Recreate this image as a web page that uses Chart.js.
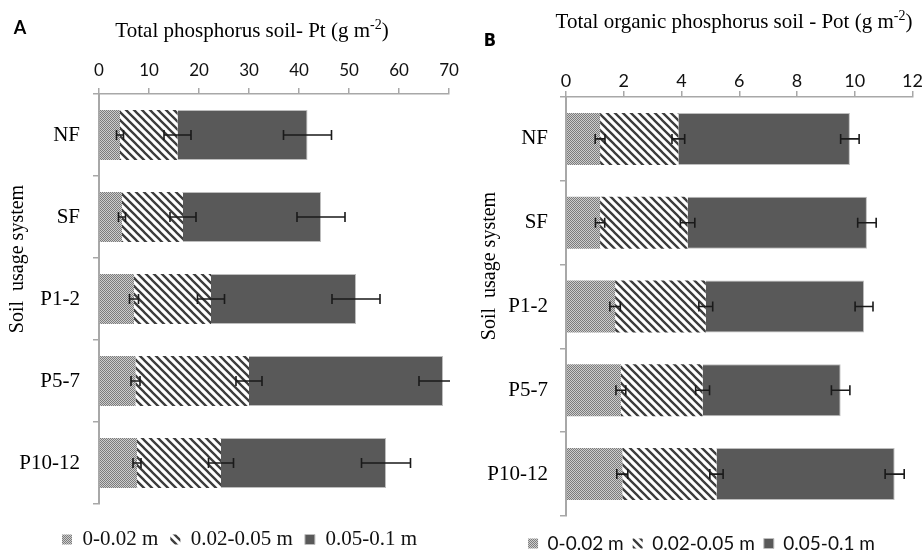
<!DOCTYPE html>
<html>
<head>
<meta charset="utf-8">
<title>Soil phosphorus by usage system</title>
<script src="https://cdn.jsdelivr.net/npm/chart.js@4.4.1/dist/chart.umd.min.js"></script>
<style>
  body { margin: 0; background: #fff; width: 924px; height: 554px; overflow: hidden; position: relative; }
  canvas { position: absolute; top: 0; }
  #chartA { left: 0; }
  #chartB { left: 470px; }
</style>
</head>
<body>
<canvas id="chartA" width="470" height="554"></canvas>
<canvas id="chartB" width="454" height="554"></canvas>
<script>
var systems = ['NF', 'SF', 'P1-2', 'P5-7', 'P10-12'];
var depths = ['0-0.02 m', '0.02-0.05 m', '0.05-0.1 m'];

// A - total phosphorus (g m-2), one value per soil usage system
var ptTop = [4.2, 4.6, 7.0, 7.3, 7.6];
var ptMid = [11.5, 12.2, 15.4, 22.7, 16.8];
var ptDeep = [26.0, 27.6, 29.0, 38.8, 33.0];
var ptTopErr = [0.7, 0.7, 0.9, 0.9, 0.8];
var ptMidErr = [2.7, 2.6, 2.7, 2.6, 2.5];
var ptDeepErr = [4.8, 4.8, 4.8, 4.8, 4.9];
var ptTicks = [0, 10, 20, 30, 40, 50, 60, 70];

// B - total organic phosphorus (g m-2)
var potTop = [1.18, 1.18, 1.70, 1.90, 1.95];
var potMid = [2.71, 3.03, 3.14, 2.83, 3.26];
var potDeep = [5.94, 6.21, 5.48, 4.78, 6.17];
var potTopErr = [0.17, 0.16, 0.18, 0.17, 0.19];
var potMidErr = [0.22, 0.25, 0.24, 0.24, 0.23];
var potDeepErr = [0.32, 0.32, 0.31, 0.32, 0.33];
var potTicks = [0, 2, 4, 6, 8, 10, 12];

var serif = '"Liberation Serif", "Times New Roman", serif';
var sans = 'Lato, "Open Sans", sans-serif';
Chart.defaults.color = '#111';

function checkerPattern() {
	var c = document.createElement('canvas');
	c.width = 2; c.height = 2;
	var g = c.getContext('2d');
	g.fillStyle = '#cdcdcd';
	g.fillRect(0, 0, 2, 2);
	g.fillStyle = '#7c7c7c';
	g.fillRect(0, 0, 1, 1);
	g.fillRect(1, 1, 1, 1);
	return g.createPattern(c, 'repeat');
}

function stripePattern() {
	var s = 8;
	var c = document.createElement('canvas');
	c.width = s; c.height = s;
	var g = c.getContext('2d');
	g.fillStyle = '#fff';
	g.fillRect(0, 0, s, s);
	g.strokeStyle = '#3c3c3c';
	g.lineWidth = 2.3;
	g.beginPath();
	g.moveTo(-2, -2); g.lineTo(s + 2, s + 2);
	g.moveTo(-2, s - 2); g.lineTo(2, s + 2);
	g.moveTo(s - 2, -2); g.lineTo(s + 2, 2);
	g.stroke();
	return g.createPattern(c, 'repeat');
}

// error bars at the end of each stacked segment
var errorBars = {
	id: 'errorBars',
	afterDatasetsDraw: function(chart) {
		var ctx = chart.ctx, xs = chart.scales.x, area = chart.chartArea;
		ctx.save();
		ctx.beginPath();
		ctx.rect(area.left, area.top, area.right - area.left + 1, area.bottom - area.top);
		ctx.clip();
		ctx.strokeStyle = '#1a1a1a';
		ctx.lineWidth = 1.6;
		chart.data.datasets.forEach(function(ds, d) {
			var meta = chart.getDatasetMeta(d);
			meta.data.forEach(function(bar, i) {
				var end = 0;
				for (var k = 0; k <= d; k++) end += chart.data.datasets[k].data[i];
				var lo = xs.getPixelForValue(end - ds.errors[i]);
				var hi = xs.getPixelForValue(end + ds.errors[i]);
				var y = bar.y;
				ctx.beginPath();
				ctx.moveTo(lo, y); ctx.lineTo(hi, y);
				ctx.moveTo(lo, y - 5); ctx.lineTo(lo, y + 5);
				ctx.moveTo(hi, y - 5); ctx.lineTo(hi, y + 5);
				ctx.stroke();
			});
		});
		ctx.restore();
	}
};

function legendShift(dx, dy) {
	return {
		id: 'legendShift',
		afterLayout: function(chart) {
			var lg = chart.legend;
			if (!lg) return;
			lg.left += dx; lg.right += dx;
			lg.top += dy; lg.bottom += dy;
		}
	};
}

// free text: panel letter, axis titles (with superscript)
function notes(items) {
	return {
		id: 'notes',
		afterDraw: function(chart) {
			var ctx = chart.ctx;
			items.forEach(function(it) {
				ctx.save();
				ctx.translate(it.x, it.y);
				if (it.rotate) ctx.rotate(it.rotate);
				ctx.fillStyle = '#000';
				ctx.textBaseline = it.baseline || 'alphabetic';
				ctx.textAlign = 'left';
				var widths = it.parts.map(function(p) {
					ctx.font = p.sup ? it.supFont : it.font;
					return ctx.measureText(p.text).width;
				});
				var total = widths.reduce(function(a, b) { return a + b; }, 0);
				var x = -total / 2;
				it.parts.forEach(function(p, k) {
					ctx.font = p.sup ? it.supFont : it.font;
					ctx.fillText(p.text, x, p.sup ? -8 : 0);
					x += widths[k];
				});
				ctx.restore();
			});
		}
	};
}

function makeChart(id, p) {
	var axisGray = '#a8a8a8';
	return new Chart(document.getElementById(id), {
		type: 'bar',
		data: {
			labels: systems,
			datasets: [
				{ label: depths[0], data: p.top, errors: p.topErr, backgroundColor: checkerPattern(), borderWidth: 0 },
				{ label: depths[1], data: p.mid, errors: p.midErr, backgroundColor: stripePattern(), borderWidth: 0 },
				{ label: depths[2], data: p.deep, errors: p.deepErr, backgroundColor: '#595959', borderColor: '#bdbdbd', borderWidth: 1 }
			]
		},
		options: {
			indexAxis: 'y',
			responsive: false,
			animation: false,
			layout: { padding: { left: 0, right: p.padRight, top: 0, bottom: p.padBottom } },
			datasets: { bar: { categoryPercentage: 1, barPercentage: p.barPct } },
			scales: {
				x: {
					position: 'top',
					stacked: true,
					min: p.ticks[0],
					max: p.ticks[p.ticks.length - 1],
					ticks: { stepSize: p.ticks[1] - p.ticks[0], padding: p.xTickPad, font: { family: sans, size: p.tickSize, lineHeight: p.tickLine }, color: '#111' },
					grid: { drawOnChartArea: false, drawTicks: true, tickLength: 6, color: axisGray, lineWidth: 1.5 },
					border: { color: axisGray, width: 1.5 },
					afterFit: function(s) { s.height = p.areaTop; }
				},
				y: {
					stacked: true,
					ticks: { padding: p.yTickPad, autoSkip: false, font: { family: serif, size: 21 }, color: '#000' },
					grid: { drawOnChartArea: false, drawTicks: true, tickLength: 6, color: axisGray, lineWidth: 1.5 },
					border: { color: axisGray, width: 2 },
					afterFit: function(s) { s.width = p.areaLeft; }
				}
			},
			plugins: {
				legend: {
					position: 'bottom',
					labels: { boxWidth: 10, boxHeight: 10, padding: p.legendPad, font: p.legendFont, color: '#111' }
				},
				tooltip: { enabled: false }
			}
		},
		plugins: [errorBars, legendShift(p.legendDx, p.legendDy), notes(p.notes)]
	});
}

makeChart('chartA', {
	top: ptTop, mid: ptMid, deep: ptDeep,
	topErr: ptTopErr, midErr: ptMidErr, deepErr: ptDeepErr,
	ticks: ptTicks,
	areaTop: 94, areaLeft: 99, padRight: 21, padBottom: 7,
	barPct: 0.61, xTickPad: 7, yTickPad: 13, tickSize: 17, tickLine: 1.2,
	legendPad: 12, legendFont: { family: serif, size: 21 }, legendDx: 15, legendDy: 13,
	notes: [
		{ parts: [{ text: 'A' }], x: 20, y: 28, baseline: 'middle', font: 'bold 18px ' + sans },
		{ parts: [{ text: 'Total phosphorus soil- Pt (g m' }, { text: '-2', sup: true }, { text: ')' }],
			x: 252, y: 37, font: '21px ' + serif, supFont: '14px ' + serif },
		{ parts: [{ text: 'Soil  usage system' }], x: 18, y: 259, rotate: -Math.PI / 2, baseline: 'middle', font: '20px ' + serif }
	]
});

makeChart('chartB', {
	top: potTop, mid: potMid, deep: potDeep,
	topErr: potTopErr, midErr: potMidErr, deepErr: potDeepErr,
	ticks: potTicks,
	areaTop: 97, areaLeft: 96, padRight: 11, padBottom: 0,
	barPct: 0.62, xTickPad: 1, yTickPad: 12, tickSize: 18, tickLine: 1,
	legendPad: 9, legendFont: { family: sans, size: 19 }, legendDx: 10, legendDy: 9,
	notes: [
		{ parts: [{ text: 'B' }], x: 20, y: 41, baseline: 'middle', font: 'bold 18px "DejaVu Sans Condensed", ' + sans },
		{ parts: [{ text: 'Total organic phosphorus soil - Pot (g m' }, { text: '-2', sup: true }, { text: ')' }],
			x: 264, y: 28, font: '21px ' + serif, supFont: '14px ' + serif },
		{ parts: [{ text: 'Soil  usage system' }], x: 20, y: 266, rotate: -Math.PI / 2, baseline: 'middle', font: '20px ' + serif }
	]
});
</script>
</body>
</html>
